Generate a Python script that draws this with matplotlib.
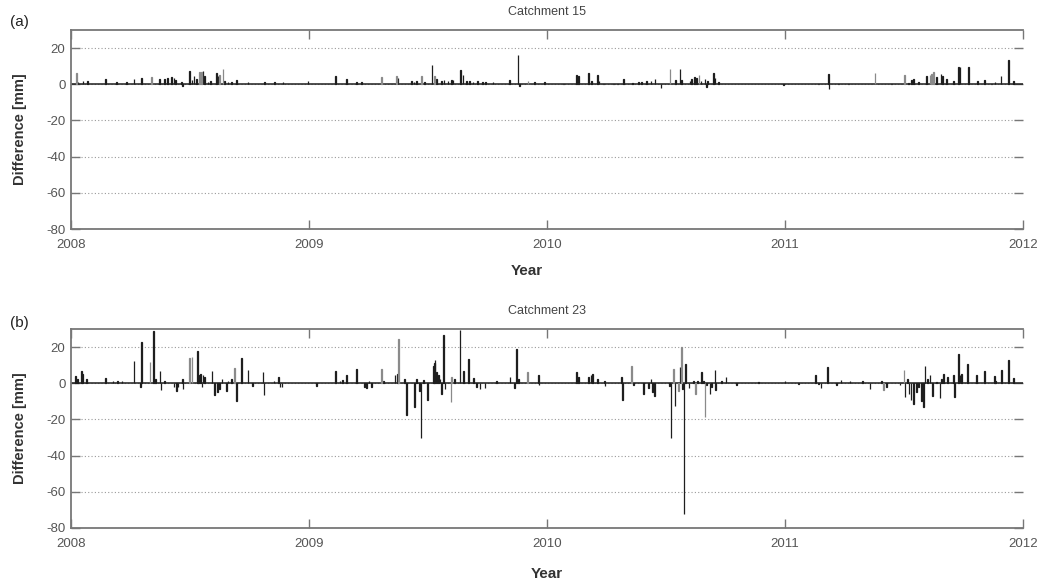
import matplotlib
matplotlib.use("Agg")
import matplotlib.pyplot as plt

plt.rcParams['font.family'] = ['Liberation Sans', 'DejaVu Sans']
plt.rcParams['axes.unicode_minus'] = False

# Catchment 15 - daily difference [mm], positions in decimal years
c15_black_year = [2008.029, 2008.050, 2008.069, 2008.144, 2008.190, 2008.233, 2008.265, 2008.295,
                  2008.373, 2008.394, 2008.405, 2008.422, 2008.433, 2008.440, 2008.464, 2008.468,
                  2008.499, 2008.508, 2008.517, 2008.527, 2008.555, 2008.562, 2008.576, 2008.587,
                  2008.611, 2008.618, 2008.646, 2008.660, 2008.674, 2008.695, 2008.744, 2008.814,
                  2008.856, 2008.891, 2008.996, 2009.112, 2009.157, 2009.199, 2009.220, 2009.374,
                  2009.430, 2009.441, 2009.451, 2009.486, 2009.517, 2009.535, 2009.556, 2009.567,
                  2009.584, 2009.598, 2009.605, 2009.637, 2009.647, 2009.661, 2009.675, 2009.689,
                  2009.707, 2009.728, 2009.741, 2009.773, 2009.843, 2009.878, 2009.885, 2009.948,
                  2009.990, 2010.068, 2010.125, 2010.132, 2010.174, 2010.188, 2010.213, 2010.218,
                  2010.237, 2010.279, 2010.297, 2010.321, 2010.358, 2010.384, 2010.398, 2010.419,
                  2010.437, 2010.454, 2010.479, 2010.541, 2010.559, 2010.566, 2010.601, 2010.608,
                  2010.619, 2010.629, 2010.647, 2010.664, 2010.671, 2010.674, 2010.699, 2010.706,
                  2010.720, 2010.748, 2010.993, 2011.140, 2011.182, 2011.185, 2011.224, 2011.266,
                  2011.336, 2011.448, 2011.518, 2011.532, 2011.539, 2011.560, 2011.595, 2011.637,
                  2011.655, 2011.661, 2011.679, 2011.707, 2011.728, 2011.735, 2011.770, 2011.808,
                  2011.837, 2011.868, 2011.882, 2011.908, 2011.938, 2011.959]
c15_black_diff = [1.5, 2.0, 1.8, 2.8, 1.2, 1.0, 2.8, 3.4,
                  2.8, 2.8, 3.4, 3.8, 3.4, 2.5, 1.5, -1.0,
                  7.5, 2.5, 4.3, 2.8, 7.2, 4.3, 1.5, 2.0,
                  6.2, 4.3, 2.0, 1.5, 1.0, 2.5, 1.0, 1.2,
                  1.0, 1.0, 2.0, 4.7, 2.8, 1.2, 1.5, 3.4,
                  2.0, 1.5, 2.0, 1.3, 10.4, 2.8, 2.0, 2.5,
                  2.0, 2.5, 2.5, 8.1, 5.3, 2.0, 2.0, 1.5,
                  1.9, 1.5, 1.0, 1.0, 2.5, 16.0, -1.0, 1.3,
                  1.5, 0.4, 5.2, 4.3, 6.4, 1.6, 5.4, 2.0,
                  0.4, 0.4, 0.4, 2.9, 0.6, 1.0, 1.0, 1.6,
                  2.0, 2.9, -2.0, 2.3, 8.2, 2.3, 1.6, 2.9,
                  3.9, 3.5, 2.0, 2.9, -1.6, 2.0, 6.2, 3.5,
                  1.0, 0.4, -0.4, 0.4, 5.8, -2.5, 0.4, 0.3,
                  0.4, 0.4, 0.8, 2.3, 2.9, 1.0, 4.3, 3.9,
                  5.8, 4.3, 2.9, 2.0, 9.7, 9.3, 9.7, 2.0,
                  2.5, 0.4, 1.0, 4.3, 13.2, 1.6]
c15_gray_year = [2008.022, 2008.337, 2008.541, 2008.548, 2008.625, 2008.639, 2009.304, 2009.367,
                 2009.472, 2009.528, 2009.920, 2010.517, 2010.639, 2011.378, 2011.501, 2011.609,
                 2011.616, 2011.623]
c15_gray_diff = [6.2, 3.8, 6.6, 7.0, 5.3, 8.5, 4.0, 4.3,
                 4.7, 4.7, 2.0, 8.2, 4.9, 6.4, 5.4, 5.2,
                 5.8, 6.6]

# Catchment 23
c23_black_year = [2008.018, 2008.027, 2008.043, 2008.049, 2008.066, 2008.144, 2008.176, 2008.195,
                  2008.214, 2008.265, 2008.293, 2008.296, 2008.347, 2008.354, 2008.374, 2008.378,
                  2008.394, 2008.433, 2008.443, 2008.450, 2008.468, 2008.471, 2008.531, 2008.536,
                  2008.543, 2008.550, 2008.555, 2008.562, 2008.592, 2008.604, 2008.615, 2008.625,
                  2008.634, 2008.653, 2008.660, 2008.674, 2008.695, 2008.716, 2008.744, 2008.762,
                  2008.807, 2008.811, 2008.853, 2008.873, 2008.878, 2008.887,
                  2009.032, 2009.112, 2009.130, 2009.140, 2009.158, 2009.200, 2009.232, 2009.242,
                  2009.252, 2009.263, 2009.312, 2009.361, 2009.373, 2009.400, 2009.410, 2009.442,
                  2009.452, 2009.463, 2009.471, 2009.480, 2009.499, 2009.522, 2009.527, 2009.529,
                  2009.537, 2009.543, 2009.550, 2009.558, 2009.564, 2009.571, 2009.611, 2009.634,
                  2009.648, 2009.669, 2009.690, 2009.705, 2009.718, 2009.739, 2009.789, 2009.845,
                  2009.863, 2009.873, 2009.879, 2009.963, 2009.966,
                  2010.125, 2010.132, 2010.174, 2010.185, 2010.190, 2010.213, 2010.241, 2010.244,
                  2010.314, 2010.317, 2010.363, 2010.405, 2010.426, 2010.437, 2010.443, 2010.451,
                  2010.514, 2010.521, 2010.538, 2010.559, 2010.569, 2010.576, 2010.583, 2010.597,
                  2010.615, 2010.633, 2010.650, 2010.657, 2010.671, 2010.685, 2010.692, 2010.706,
                  2010.709, 2010.734, 2010.752, 2010.797, 2010.832, 2010.888, 2011.000,
                  2011.056, 2011.129, 2011.140, 2011.151, 2011.179, 2011.217, 2011.235, 2011.273,
                  2011.326, 2011.357, 2011.406, 2011.427, 2011.483, 2011.504, 2011.516, 2011.521,
                  2011.529, 2011.539, 2011.553, 2011.560, 2011.574, 2011.581, 2011.588, 2011.600,
                  2011.609, 2011.620, 2011.637, 2011.651, 2011.658, 2011.665, 2011.683, 2011.707,
                  2011.713, 2011.728, 2011.735, 2011.742, 2011.768, 2011.805, 2011.837, 2011.879,
                  2011.885, 2011.910, 2011.938, 2011.959]
c23_black_diff = [3.9, 2.4, 7.0, 5.0, 2.4, 3.0, 1.5, 1.5,
                  1.1, 12.2, -2.0, 22.8, 28.7, 2.4, 7.0, -3.5,
                  1.0, -2.2, -4.4, -2.2, 2.4, -3.1, 17.8, 4.6,
                  5.0, -2.0, 4.8, 3.5, 7.0, -6.5, -4.6, -3.0,
                  2.4, -4.0, 1.5, 2.4, -9.6, 14.0, 7.6, -1.7,
                  6.1, -6.3, 1.5, 3.7, -2.0, -2.0,
                  -1.3, 6.7, 1.5, 2.0, 4.3, 8.0, -2.0, -2.4,
                  1.5, -2.0, 1.5, 4.3, 5.2, 2.4, -17.6, -13.3,
                  2.4, -4.0, -30.0, 2.0, -9.0, 9.8, 11.0, 12.6,
                  6.0, 4.6, 2.4, -6.0, 26.5, -3.0, 2.4, 29.2,
                  6.7, 13.5, 2.8, -2.0, -3.0, -2.6, 1.0, 3.3,
                  -2.8, 18.7, 2.4, 4.3, -1.0,
                  6.0, 3.3, 3.3, 4.6, 5.1, 2.4, 1.5, -1.3,
                  3.3, -9.0, -1.0, -5.9, -2.8, 2.4, -5.0, -7.2,
                  -1.3, -30.0, -12.8, 8.8, -3.0, -72.5, 10.6, -2.8,
                  1.5, 1.5, 6.0, 1.5, -1.0, -5.9, -2.0, 7.5,
                  -3.5, 1.5, 3.3, -0.7, 0.2, 0.5, 1.0,
                  -0.6, 4.3, -0.4, -2.8, 8.9, -0.7, 1.9, 1.1,
                  1.1, -3.1, 1.5, -2.2, -0.9, -7.8, 2.4, -5.9,
                  -9.0, -11.5, -5.0, -2.2, -9.6, -13.0, 9.8, 2.4,
                  4.6, -6.9, 0.5, -8.3, 2.4, 5.2, 3.3, 4.6,
                  -7.4, 16.3, 4.3, 5.2, 10.4, 4.6, 7.0, 3.9,
                  1.5, 7.4, 12.6, 3.0]
c23_gray_year = [2008.332, 2008.499, 2008.508, 2008.688, 2009.305, 2009.375, 2009.597, 2009.600,
                 2009.918, 2010.356, 2010.531, 2010.552, 2010.566, 2010.625, 2010.664, 2011.415,
                 2011.500]
c23_gray_diff = [11.7, 14.0, 14.4, 8.3, 8.0, 24.6, -10.2, 3.3,
                 6.1, 9.7, 7.9, -4.0, 19.8, -5.9, -18.7, -3.7,
                 7.4]

years = [2008, 2009, 2010, 2011, 2012]
yticks = [-80, -60, -40, -20, 0, 20]

panels = [
    ("(a)", "Catchment 15", c15_black_year, c15_black_diff, c15_gray_year, c15_gray_diff),
    ("(b)", "Catchment 23", c23_black_year, c23_black_diff, c23_gray_year, c23_gray_diff),
]

fig = plt.figure(figsize=(10.45, 5.84), dpi=100)
W, H = 1045.0, 584.0
# axes boxes in pixels: left, top, right, bottom
boxes = [(71, 30, 1023, 229), (71, 329, 1023, 528)]
letter_y = [22, 323]
year_xy = [(0.479, -0.176), (0.5, -0.196)]

for i, (letter, title, bx, bv, gx, gv) in enumerate(panels):
    l, t, r, b = boxes[i]
    ax = fig.add_axes([l / W, 1 - b / H, (r - l) / W, (b - t) / H])

    ax.axhline(0, color='#1e1e1e', lw=1.1, zorder=2)
    ax.bar(bx, bv, width=1 / 365, color='#1e1e1e', edgecolor='#1e1e1e', linewidth=0.9, zorder=3)
    ax.bar(gx, gv, width=1 / 365, color='#8a8a8a', edgecolor='#8a8a8a', linewidth=0.9, zorder=3)

    ax.set_xlim(2008, 2012)
    ax.set_ylim(-80, 30)
    ax.set_xticks(years)
    ax.set_xticklabels([str(y) for y in years])
    ax.set_yticks(yticks)
    ax.yaxis.grid(True, linestyle=(0, (1, 2)), color='#9a9a9a', linewidth=0.8)
    ax.set_axisbelow(True)

    for side in ['top', 'left', 'bottom']:
        ax.spines[side].set_color('#777777')
        ax.spines[side].set_linewidth(1.3)
    ax.spines['right'].set_visible(False)

    ax.tick_params(axis='both', direction='in', length=6.5, width=1.0, color='#777777',
                   labelcolor='#555555', labelsize=9.5, top=True, right=True)
    ax.tick_params(axis='x', pad=7)
    ax.tick_params(axis='y', pad=4)

    ax.set_ylabel('Difference [mm]', fontsize=10.5, fontweight='bold', color='#333333')
    ax.yaxis.set_label_coords(-0.046, 0.5)
    ax.set_xlabel('Year', fontsize=11, fontweight='bold', color='#333333')
    ax.xaxis.set_label_coords(*year_xy[i])

    ax.text(0.5, 1 + 18 / (b - t), title, transform=ax.transAxes, ha='center', va='center',
            fontsize=9, color='#444444')
    fig.text(10 / W, 1 - letter_y[i] / H, letter, ha='left', va='center', fontsize=11,
             color='#222222')

fig.savefig('out.png', dpi=100)
